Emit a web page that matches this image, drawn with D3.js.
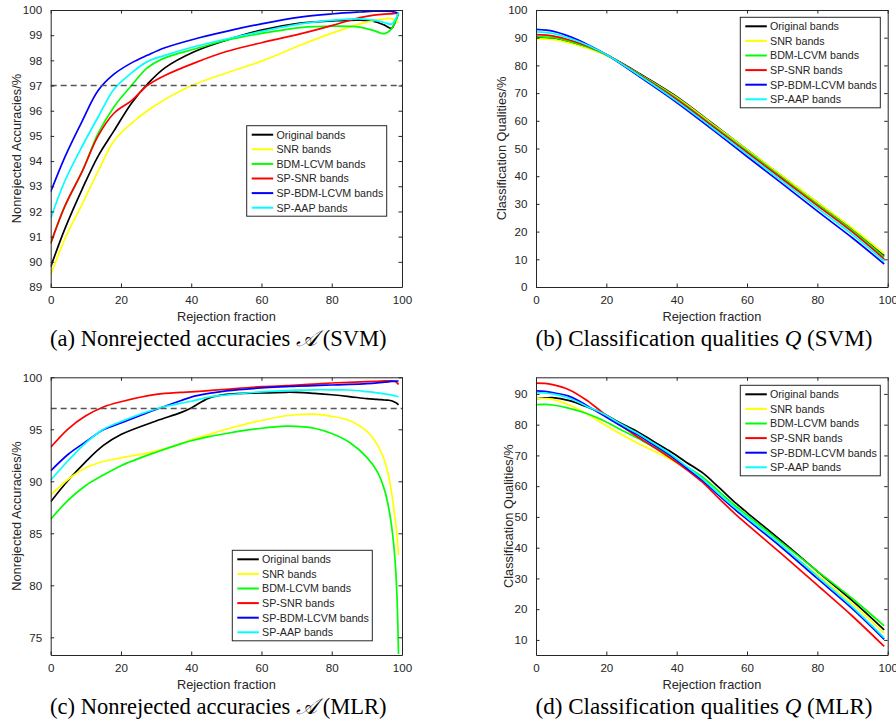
<!DOCTYPE html>
<html><head><meta charset="utf-8">
<script src="https://cdn.jsdelivr.net/npm/d3@7/dist/d3.min.js"></script>
<style>
body{margin:0;background:#fff}
text{font-family:"Liberation Sans",Arial,Helvetica,sans-serif;fill:#262626}
.cap{font-family:"Liberation Serif","DejaVu Serif",serif;fill:#000}
</style>
</head><body>
<svg id="chart" width="896" height="724" xmlns="http://www.w3.org/2000/svg"></svg>
<script>
// ---------- data ----------
const seriesNames = ["Original bands","SNR bands","BDM-LCVM bands","SP-SNR bands","SP-BDM-LCVM bands","SP-AAP bands"];
const seriesColors = ["#000000","#ffff00","#00ff00","#ff0000","#0000ff","#00ffff"];
const xTicks = [0,20,40,60,80,100];

// (a) Nonrejected accuracies, SVM
const xA = [0,4,9,13.5,18,23,27.5,32.5,41,50,60,71,80.5,88,92,95,97,98,99];
const aOriginal = [89.8,91.3,92.9,94.2,95.2,96.3,97.05,97.7,98.35,98.8,99.2,99.48,99.57,99.6,99.55,99.4,99.27,99.5,99.88];
const aSNR      = [89.48,90.9,92.3,93.6,94.8,95.5,96.0,96.45,97.05,97.5,97.97,98.6,99.1,99.45,99.58,99.65,99.66,99.58,99.49];
const aBDM      = [90.73,92.2,93.6,95.1,96.15,97.0,97.7,98.1,98.45,98.8,99.07,99.3,99.36,99.32,99.18,99.06,99.25,99.5,99.88];
const aSPSNR    = [90.73,92.2,93.6,95.0,95.9,96.4,97.0,97.4,97.9,98.35,98.7,99.05,99.4,99.7,99.8,99.84,99.85,99.86,99.86];
const aSPBDM    = [92.78,94.15,95.6,96.8,97.45,97.9,98.2,98.5,98.85,99.15,99.45,99.72,99.85,99.92,99.95,99.95,99.94,99.92,99.86];
const aSPAAP    = [91.73,93.2,94.6,95.75,96.85,97.5,97.95,98.2,98.55,98.85,99.15,99.45,99.6,99.65,99.6,99.5,99.44,99.6,99.9];
const aYTicks = [89,90,91,92,93,94,95,96,97,98,99,100];

// (b) Classification qualities, SVM
const xB = [0,5,10,15,20,30,40,50,60,70,80,90,99];
const bOriginal = [90.1,89.7,88.2,86.3,83.8,76.6,68.7,59.2,49.6,40.0,30.5,20.9,11.3];
const bSNR      = [89.7,89.3,87.9,86.0,83.6,76.3,68.4,59.0,49.6,40.1,30.6,21.2,12.0];
const bBDM      = [90.4,90.0,88.5,86.5,83.8,76.3,68.1,58.6,49.1,39.5,29.9,20.4,10.8];
const bSPSNR    = [91.1,90.6,89.0,86.8,83.9,76.1,67.7,58.2,48.6,39.0,29.4,19.8,10.1];
const bSPBDM    = [93.0,92.3,90.2,87.3,83.9,75.4,66.6,57.0,47.1,37.3,27.4,17.7,8.3];
const bSPAAP    = [92.1,91.5,89.6,87.1,83.9,75.8,67.1,57.6,47.9,38.2,28.5,18.9,9.3];
const bYTicks = [0,10,20,30,40,50,60,70,80,90,100];

// (c) Nonrejected accuracies, MLR
const xC = [0,5,10,15,20,30,37,40,45,50,60,67,70,75,80,85,90,93,95,96,97,98,98.5,99];
const cOriginal = [88.04,90.1,91.9,93.45,94.5,95.8,96.6,97.05,98.0,98.35,98.5,98.56,98.55,98.45,98.32,98.15,97.95,97.88,97.82,97.8,97.75,97.6,97.5,97.35];
const cSNR      = [88.68,90.2,91.3,91.9,92.25,92.9,93.6,94.0,94.5,95.0,95.85,96.3,96.4,96.45,96.25,95.85,94.8,93.5,92.0,90.8,89.0,86.5,85.0,82.9];
const cBDM      = [86.35,88.2,89.6,90.6,91.5,92.8,93.6,93.9,94.3,94.6,95.1,95.3,95.28,95.1,94.6,93.75,92.3,90.9,89.2,87.8,85.8,82.5,79.5,73.4];
const cSPSNR    = [93.27,95.05,96.3,97.15,97.65,98.35,98.55,98.6,98.72,98.85,99.1,99.2,99.26,99.35,99.45,99.52,99.58,99.62,99.65,99.66,99.66,99.6,99.5,99.3];
const cSPBDM    = [91.0,92.6,93.8,94.95,95.6,96.9,97.75,98.1,98.45,98.7,98.98,99.1,99.15,99.2,99.26,99.32,99.4,99.47,99.53,99.56,99.6,99.63,99.64,99.65];
const cSPAAP    = [90.1,92.0,93.7,95.0,95.75,96.95,97.5,97.7,98.1,98.3,98.6,98.72,98.76,98.8,98.8,98.78,98.62,98.5,98.4,98.35,98.3,98.22,98.18,98.15];
const cYTicks = [75,80,85,90,95,100];

// (d) Classification qualities, MLR
const xD = [0,2.5,4.7,9.5,14.2,19,23.7,28.4,33.2,37.9,42.7,47.4,52,57,60,70,80,90,99];
const dOriginal = [88.5,88.7,88.8,87.8,85.9,83.6,80.7,78.0,74.7,71.5,67.8,64.3,59.6,54.3,51.4,42.0,32.3,22.7,13.3];
const dSNR      = [88.6,88.5,88.2,86.4,83.7,80.3,77.2,74.3,71.6,68.9,65.7,62.2,57.3,52.0,49.3,40.3,31.2,21.7,12.2];
const dBDM      = [86.5,86.6,86.4,85.3,83.7,81.4,78.6,75.9,72.9,70.0,66.4,62.9,58.3,53.3,50.6,41.5,32.4,23.4,14.6];
const dSPSNR    = [93.5,93.4,93.0,91.3,88.1,83.9,80.0,76.4,72.9,69.4,65.5,61.2,56.0,50.6,47.6,37.8,27.8,17.7,7.9];
const dSPBDM    = [91.0,90.8,90.4,89.2,86.4,83.1,79.9,77.0,73.6,70.2,66.0,61.8,57.0,52.0,49.2,39.9,30.0,20.1,10.2];
const dSPAAP    = [90.4,90.3,90.0,88.6,86.1,83.6,80.5,77.5,74.1,70.7,66.5,62.3,57.5,52.6,49.8,40.6,30.7,20.7,10.7];
const dYTicks = [10,20,30,40,50,60,70,80,90];

const captions = ["(a) Nonrejected accuracies ", "(b) Classification qualities ", "(c) Nonrejected accuracies ", "(d) Classification qualities "];
const captionSym = ["𝒜","Q","𝒜","Q"];
const captionTail = [" (SVM)"," (SVM)"," (MLR)"," (MLR)"];
const yLabels = ["Nonrejected Accuracies/%","Classification Qualities/%","Nonrejected Accuracies/%","Classification Qualities/%"];

// ---------- layout ----------
const panels = [
  {L:50.7,R:402,T:10,B:287, x:xA, ys:[aOriginal,aSNR,aBDM,aSPSNR,aSPBDM,aSPAAP], dom:[89,100], ticks:aYTicks, dashed:97, lg:[246.7,125.7], ylOff:34, capX:218.3},
  {L:536,R:887.7,T:10,B:287, x:xB, ys:[bOriginal,bSNR,bBDM,bSPSNR,bSPBDM,bSPAAP], dom:[0,100], ticks:bYTicks, dashed:null, lg:[740.3,17.3], ylOff:34.3, capX:704},
  {L:50.7,R:402,T:377.3,B:655, x:xC, ys:[cOriginal,cSNR,cBDM,cSPSNR,cSPBDM,cSPAAP], dom:[73.3,100], ticks:cYTicks, dashed:97, lg:[232.3,550.3], ylOff:34, capX:218.3},
  {L:536,R:887.7,T:377.3,B:655, x:xD, ys:[dOriginal,dSNR,dBDM,dSPSNR,dSPBDM,dSPAAP], dom:[5.1,95.4], ticks:dYTicks, dashed:null, lg:[740.3,385.3], ylOff:27.7, capX:704}
];

const svg = d3.select("#chart");
const axisColor = "#262626";
const tickLen = 3.5;

panels.forEach((p, i) => {
  const xs = d3.scaleLinear().domain([0,100]).range([p.L, p.R]);
  const ys = d3.scaleLinear().domain(p.dom).range([p.B, p.T]);
  const g = svg.append("g");

  const clipId = "clip" + i;
  svg.append("clipPath").attr("id", clipId).append("rect")
    .attr("x", p.L).attr("y", p.T).attr("width", p.R - p.L).attr("height", p.B - p.T);

  // curves
  const line = d3.line().curve(d3.curveCatmullRom.alpha(0.5));
  const cg = g.append("g").attr("clip-path", `url(#${clipId})`);
  p.ys.forEach((vals, k) => {
    const pts = p.x.map((xv, j) => [xs(xv), ys(vals[j])]);
    cg.append("path").attr("d", line(pts)).attr("fill", "none")
      .attr("stroke", seriesColors[k]).attr("stroke-width", 1.7)
      .attr("stroke-linejoin", "round");
  });
  if (p.dashed !== null) {
    cg.append("line").attr("x1", xs(0)).attr("x2", xs(100))
      .attr("y1", ys(p.dashed)).attr("y2", ys(p.dashed))
      .attr("stroke", "#555").attr("stroke-width", 1.4).attr("stroke-dasharray", "6,4");
  }

  // axes with D3 (inward ticks), mirrored
  const fmt = d3.format("d");
  const bottom = g.append("g").attr("transform", `translate(0,${p.B})`)
    .call(d3.axisBottom(xs).tickValues(xTicks).tickFormat(fmt).tickSizeInner(-tickLen).tickSizeOuter(0).tickPadding(9));
  const top = g.append("g").attr("transform", `translate(0,${p.T})`)
    .call(d3.axisTop(xs).tickValues(xTicks).tickFormat("").tickSizeInner(-tickLen).tickSizeOuter(0));
  const left = g.append("g").attr("transform", `translate(${p.L},0)`)
    .call(d3.axisLeft(ys).tickValues(p.ticks).tickFormat(fmt).tickSizeInner(-tickLen).tickSizeOuter(0).tickPadding(8.5));
  const right = g.append("g").attr("transform", `translate(${p.R},0)`)
    .call(d3.axisRight(ys).tickValues(p.ticks).tickFormat("").tickSizeInner(-tickLen).tickSizeOuter(0));
  [bottom, top, left, right].forEach(a => {
    a.selectAll(".domain").attr("stroke", axisColor).attr("stroke-width", 1);
    a.selectAll(".tick line").attr("stroke", axisColor).attr("stroke-width", 1);
    a.selectAll("text").attr("fill", axisColor).style("font-size", "11.6px")
      .style("font-family", '"Liberation Sans",Arial,sans-serif');
  });

  // axis titles
  g.append("text").attr("x", (p.L + p.R) / 2).attr("y", p.B + 33.8)
    .attr("text-anchor", "middle").style("font-size", "12.8px").text("Rejection fraction");
  g.append("text").attr("transform", `translate(${p.L - p.ylOff + 4.6},${(p.T + p.B) / 2}) rotate(-90)`)
    .attr("text-anchor", "middle").style("font-size", "12.8px").text(yLabels[i]);

  // legend
  const [lx, ly] = p.lg;
  const lgG = g.append("g");
  lgG.append("rect").attr("x", lx).attr("y", ly).attr("width", 140).attr("height", 90.5)
    .attr("fill", "#fff").attr("stroke", axisColor).attr("stroke-width", 1);
  seriesNames.forEach((nm, k) => {
    const yy = ly + 9 + k * 14.6;
    lgG.append("line").attr("x1", lx + 5).attr("x2", lx + 26.5).attr("y1", yy).attr("y2", yy)
      .attr("stroke", seriesColors[k]).attr("stroke-width", 2);
    lgG.append("text").attr("x", lx + 29.7).attr("y", yy + 3.8).style("font-size", "10.7px").text(nm);
  });

  // caption
  const cap = g.append("text").attr("class", "cap").attr("x", p.capX).attr("y", p.B + 58.6)
    .attr("text-anchor", "middle").style("font-size", "17px");
  cap.append("tspan").text(captions[i]);
  cap.append("tspan").style("font-style", "italic").text(captionSym[i]);
  cap.append("tspan").text(captionTail[i]);
  const target = 337;
  const w = cap.node().getComputedTextLength();
  if (w > 0) cap.style("font-size", (17 * target / w).toFixed(2) + "px");
});
</script>
</body></html>
